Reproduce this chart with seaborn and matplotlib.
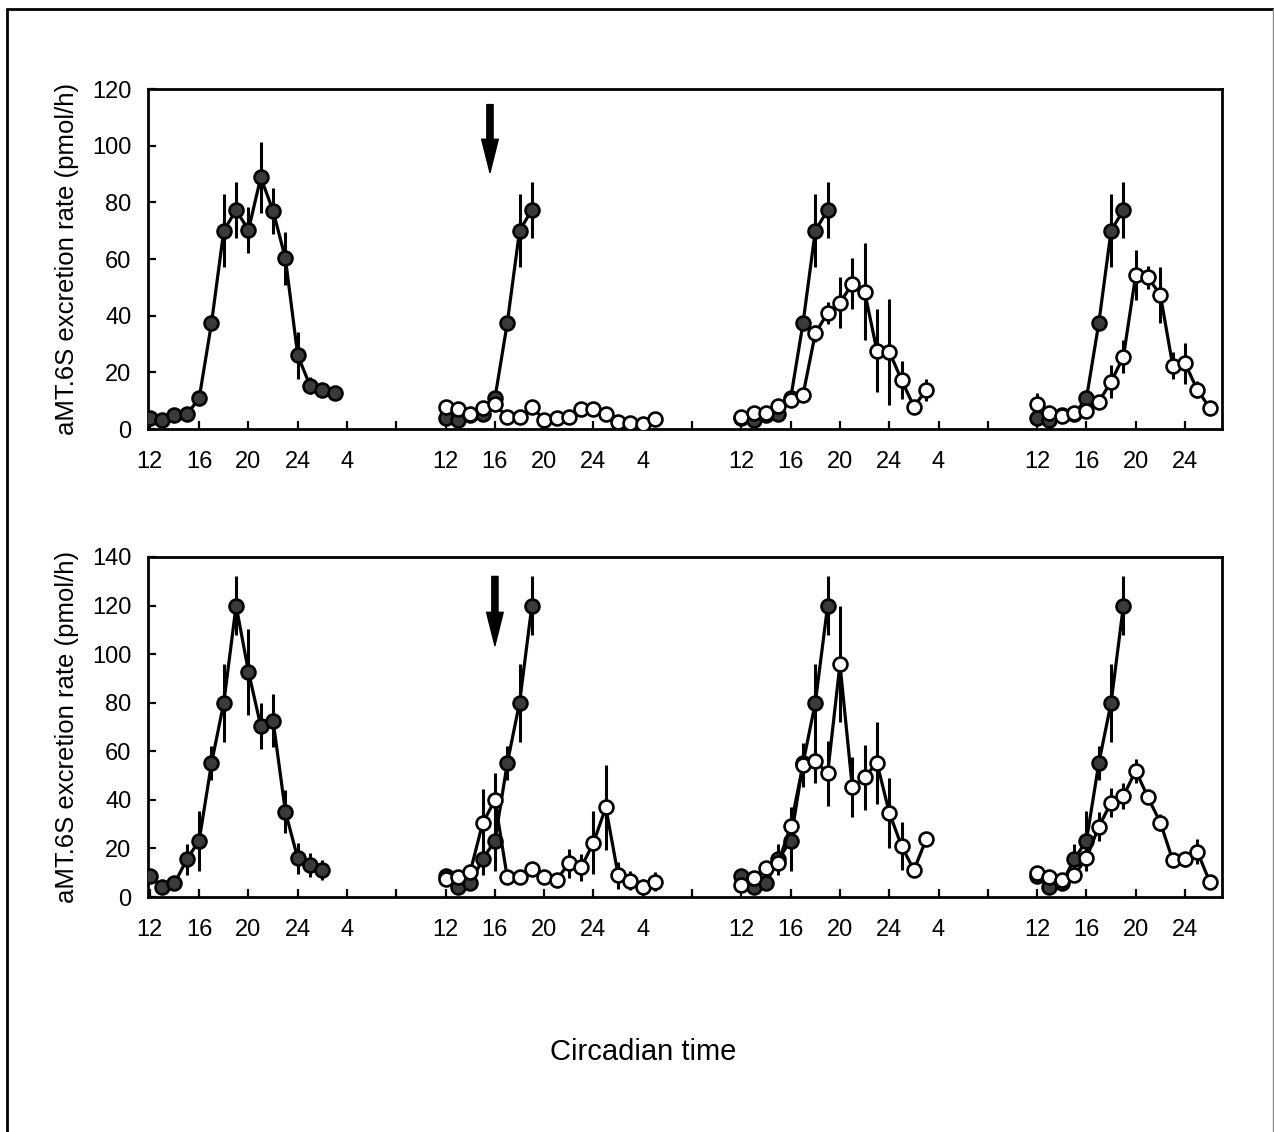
import numpy as np
import pandas as pd
import matplotlib
matplotlib.use("Agg")
import matplotlib.pyplot as plt
import seaborn as sns
from matplotlib.lines import Line2D

sns.set_theme(style="white")
plt.rcParams['font.family'] = ['Liberation Sans', 'DejaVu Sans']
plt.rcParams['text.color'] = 'black'
plt.rcParams['axes.labelcolor'] = 'black'
plt.rcParams['xtick.color'] = 'black'
plt.rcParams['ytick.color'] = 'black'

# ---------------- data (circadian time, values in pmol/h) ----------------
# Top panel: baseline profile (filled circles)
top_base_ct = list(range(12, 28))
top_base = [3.8, 3.2, 4.9, 5.2, 10.8, 37.3, 70, 77.3, 70.2, 88.8, 77, 60.2, 26, 15.3, 13.9, 12.6]
top_base_err = [0.8, 0.8, 1, 1, 2, 2.5, 12.9, 10, 8, 12.4, 8, 9.3, 8.2, 3, 1.5, 1.5]

# Top panel: treatment nights (open circles), segments 2-4
top_open2_ct = list(range(12, 30))
top_open2 = [7.9, 6.9, 5.2, 7.3, 8.8, 4.1, 4.1, 7.9, 3.2, 3.8, 4.1, 6.9, 6.9, 5.3, 2.4, 2.0, 1.6, 3.4]
top_open2_err = [1.5, 1, 1, 1, 1.5, 1, 1, 1, 1, 1, 1, 1, 2, 2, 1, 1, 1, 1]

top_open3_ct = list(range(12, 28))
top_open3 = [4.1, 5.5, 5.8, 8.1, 10.2, 12, 33.8, 41, 44.6, 51.2, 48.5, 27.6, 27.3, 17.3, 7.9, 13.8]
top_open3_err = [1, 1, 1, 1.5, 2, 2, 3, 4, 9, 9, 17, 14.7, 18.7, 6.6, 1.5, 4]

top_open4_ct = list(range(12, 27))
top_open4 = [8.8, 5.5, 4.6, 5.8, 6.4, 9.6, 16.7, 25.5, 54.4, 53.5, 47.3, 22.4, 23.2, 13.8, 7.5]
top_open4_err = [4, 1.5, 1, 1, 1.5, 2, 5.9, 5.9, 8.8, 4, 9.8, 4.7, 7.3, 3, 1.5]

# Bottom panel: baseline profile (filled circles)
bot_base_ct = list(range(12, 27))
bot_base = [8.6, 4.3, 5.6, 15.5, 23.2, 55, 80, 120, 92.8, 70.4, 72.6, 35.1, 15.9, 13.2, 11.1]
bot_base_err = [1, 1, 1, 6.5, 12.3, 7, 16, 12, 17.7, 9.6, 10.8, 8.8, 6.5, 4.8, 4]

# Bottom panel: treatment nights (open circles)
bot_open2_ct = list(range(12, 30))
bot_open2 = [7.3, 8.1, 10.4, 30.3, 39.9, 8.1, 8.1, 11.4, 8.1, 7, 13.9, 12.2, 22.4, 36.9, 9, 6.7, 4.3, 6.3]
bot_open2_err = [2, 2, 2, 14, 11, 1.5, 1.5, 2, 1.5, 1.5, 6, 5.5, 13, 17.4, 5.5, 4, 3, 4]

bot_open3_ct = list(range(12, 28))
bot_open3 = [4.9, 8, 11.8, 14.1, 29.2, 54.4, 56.1, 50.9, 95.9, 45.2, 49.3, 55.3, 34.7, 21, 11.1, 23.8]
bot_open3_err = [2, 2, 2, 4, 8, 8.9, 9, 13.4, 24, 12.3, 13.3, 16.8, 14.4, 10, 2, 2]

bot_open4_ct = list(range(12, 27))
bot_open4 = [9.7, 8.4, 7, 9, 15.9, 29, 38.8, 41.6, 52, 41, 30.6, 15.2, 15.5, 18.7, 6.3]
bot_open4_err = [2, 2, 2, 2, 4, 6, 6, 5.4, 5, 2, 3.5, 3, 3, 5, 2]

# baseline repeated (up to CT19) in the treatment segments
base_repeat_end_ct = 19

tick_labels_cycle = ['12', '16', '20', '24', '4', '']
y_label = 'aMT.6S excretion rate (pmol/h)'
x_label = 'Circadian time'
arrow_ct = [15.6, 16.0]   # arrow positions (segment 2) top / bottom

# ---------------- figure ----------------
W, H = 1274, 1132
fig = plt.figure(figsize=(W / 100, H / 100), dpi=100)

ax_top = fig.add_axes([148 / W, 1 - 429 / H, (1222 - 148) / W, (429 - 89) / H])
ax_bot = fig.add_axes([148 / W, 1 - 897 / H, (1222 - 148) / W, (897 - 557) / H])

MS = 10
LW = 2.3
FILL = '#3a3a3a'


def seg_x(ct, seg):
    return [24 * seg + (c - 12) for c in ct]


def draw_series(ax, ct, vals, errs, seg, filled):
    xs = seg_x(ct, seg)
    df = pd.DataFrame({'x': xs, 'y': vals})
    ax.errorbar(xs, vals, yerr=errs, fmt='none', ecolor='black', elinewidth=2.2,
                capsize=0, zorder=2)
    sns.lineplot(data=df, x='x', y='y', ax=ax, color='black', linewidth=LW,
                 marker='o', markersize=MS,
                 markerfacecolor=FILL if filled else 'white',
                 markeredgecolor='black', markeredgewidth=1.9,
                 estimator=None, sort=False, zorder=3 if filled else 4)


def draw_panel(ax, base_ct, base, base_err, opens):
    draw_series(ax, base_ct, base, base_err, 0, True)
    n = base_ct.index(base_repeat_end_ct) + 1
    for seg, (oct_, ov, oe) in enumerate(opens, start=1):
        draw_series(ax, base_ct[:n], base[:n], base_err[:n], seg, True)
        draw_series(ax, oct_, ov, oe, seg, False)


draw_panel(ax_top, top_base_ct, top_base, top_base_err,
           [(top_open2_ct, top_open2, top_open2_err),
            (top_open3_ct, top_open3, top_open3_err),
            (top_open4_ct, top_open4, top_open4_err)])
draw_panel(ax_bot, bot_base_ct, bot_base, bot_base_err,
           [(bot_open2_ct, bot_open2, bot_open2_err),
            (bot_open3_ct, bot_open3, bot_open3_err),
            (bot_open4_ct, bot_open4, bot_open4_err)])

xticks = np.arange(0, 88, 4)
xtl = [tick_labels_cycle[i % 6] for i in range(len(xticks))]

for ax, ymax in [(ax_top, 120), (ax_bot, 140)]:
    ax.set_xlim(-0.15, 87.0)
    ax.set_ylim(0, ymax)
    ax.set_yticks(np.arange(0, ymax + 1, 20))
    ax.set_xticks(xticks)
    ax.set_xticklabels(xtl)
    ax.tick_params(axis='both', direction='in', length=6, width=1.6,
                   labelsize=17, colors='black')
    ax.tick_params(axis='x', pad=16, bottom=True)
    ax.tick_params(axis='y', pad=12, left=True)
    for s in ax.spines.values():
        s.set_linewidth(2.0)
        s.set_color('black')
    ax.set_xlabel('')
    ax.set_ylabel(y_label, fontsize=18.5, labelpad=9, color='black')

# arrows (stimulus onset)
ax_top.annotate('', xy=(24 + arrow_ct[0] - 12, 90.5), xytext=(24 + arrow_ct[0] - 12, 114.5),
                arrowprops=dict(facecolor='black', edgecolor='black', width=4.5,
                                headwidth=12, headlength=24, shrink=0))
ax_bot.annotate('', xy=(24 + arrow_ct[1] - 12, 103.5), xytext=(24 + arrow_ct[1] - 12, 132),
                arrowprops=dict(facecolor='black', edgecolor='black', width=4.5,
                                headwidth=12, headlength=24, shrink=0))

fig.text(643 / W, 1 - 1052 / H, x_label, ha='center', va='center', fontsize=21,
         color='black')

# outer frame
fig.add_artist(Line2D([7 / W, 7 / W], [0, 1 - 9 / H], transform=fig.transFigure,
                      color='black', linewidth=2))
fig.add_artist(Line2D([7 / W, 1273 / W], [1 - 9 / H, 1 - 9 / H], transform=fig.transFigure,
                      color='black', linewidth=2))
fig.add_artist(Line2D([1272.5 / W, 1272.5 / W], [0, 1 - 9 / H], transform=fig.transFigure,
                      color='#888888', linewidth=1))

fig.savefig('out.png', dpi=100)
